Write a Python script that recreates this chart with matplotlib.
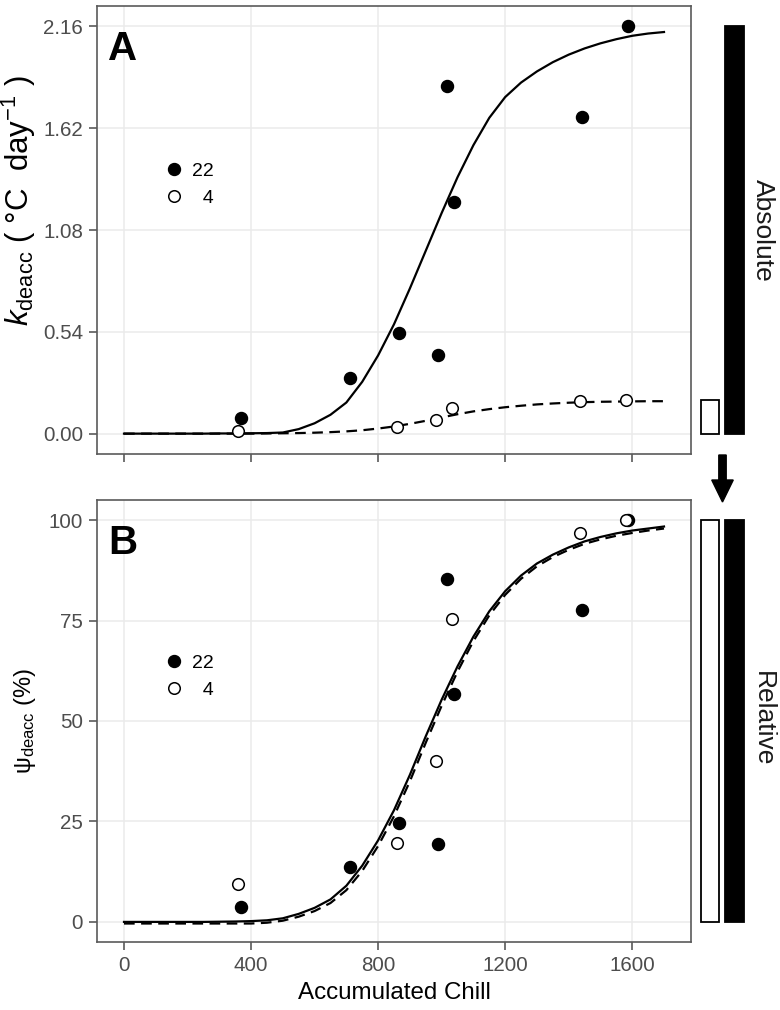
import matplotlib
matplotlib.use('Agg')
import matplotlib.pyplot as plt
from matplotlib.lines import Line2D
from matplotlib.patches import FancyArrow

plt.rcParams['font.family'] = ['Liberation Sans', 'DejaVu Sans']
plt.rcParams['mathtext.fontset'] = 'custom'
plt.rcParams['mathtext.rm'] = 'Liberation Sans'
plt.rcParams['mathtext.it'] = 'Liberation Sans:italic'
plt.rcParams['mathtext.bf'] = 'Liberation Sans:bold'

# ---------------- data ----------------
chill_22 = [368, 710, 866, 990, 1018, 1039, 1443, 1587]
kdeacc_22 = [0.081, 0.293, 0.533, 0.417, 1.846, 1.230, 1.680, 2.162]
psi_22 = [3.6, 13.6, 24.7, 19.3, 85.4, 56.8, 77.7, 100.0]

chill_4 = [360, 858, 983, 1033, 1435, 1580]
kdeacc_4 = [0.016, 0.035, 0.070, 0.136, 0.175, 0.180]
psi_4 = [9.4, 19.7, 40.1, 75.4, 96.9, 100.0]

fit_chill = [0, 50, 100, 150, 200, 250, 300, 350, 400, 450, 500, 550, 600, 650,
             700, 750, 800, 850, 900, 950, 1000, 1050, 1100, 1150, 1200, 1250,
             1300, 1350, 1400, 1450, 1500, 1550, 1600, 1650, 1700]
fit_k_22 = [0, 0, 0, 0, 0, 0, 0.001, 0.001, 0.002, 0.003, 0.006, 0.024, 0.055, 0.10,
            0.165, 0.275, 0.415, 0.58, 0.77, 0.97, 1.17, 1.36, 1.53, 1.675, 1.785, 1.862,
            1.921, 1.97, 2.01, 2.043, 2.07, 2.092, 2.11, 2.122, 2.13]
fit_k_4 = [0, 0, 0, 0, 0, 0, 0, 0, 0, 0.001, 0.002, 0.003, 0.005, 0.008,
           0.012, 0.018, 0.027, 0.038, 0.052, 0.068, 0.086, 0.103, 0.118, 0.130, 0.140, 0.148,
           0.155, 0.160, 0.164, 0.167, 0.169, 0.170, 0.171, 0.172, 0.172]
fit_psi_22 = [0, 0, 0, 0, 0, 0, 0.05, 0.1, 0.2, 0.4, 0.9, 2.0, 3.5, 5.6,
              9.0, 14.0, 20.3, 27.8, 36.6, 46.2, 55.3, 63.6, 71.0, 77.3, 82.3, 86.2,
              89.2, 91.4, 93.2, 94.7, 95.8, 96.7, 97.4, 97.9, 98.4]
fit_psi_4 = [-0.4, -0.4, -0.4, -0.4, -0.4, -0.4, -0.4, -0.4, -0.4, -0.2, 0.3, 1.3, 2.7, 4.7,
             7.9, 12.7, 18.9, 26.3, 35.0, 44.6, 53.8, 62.3, 69.9, 76.3, 81.4, 85.4,
             88.5, 90.8, 92.6, 94.1, 95.2, 96.1, 96.8, 97.4, 97.9]

side_abs = [0.18, 2.16]     # max of 4 (open), max of 22 (black)
side_rel = [100, 100]

x_ticks = [0, 400, 800, 1200, 1600]
yA_ticks = [0, 0.54, 1.08, 1.62, 2.16]
yA_labels = ['0.00', '0.54', '1.08', '1.62', '2.16']
yB_ticks = [0, 25, 50, 75, 100]
legend_labels = ['22', '  4']

# ---------------- layout ----------------
W, H = 780, 1010
fig = plt.figure(figsize=(W / 100, H / 100), dpi=100)


def px_axes(l, t, r, b):
    return fig.add_axes([l / W, 1 - b / H, (r - l) / W, (b - t) / H])


axA = px_axes(97, 6, 691, 454)
axB = px_axes(97, 500, 691, 942)
sideA = px_axes(697.6, 6, 746.8, 454)
sideB = px_axes(697.6, 500, 746.8, 942)

BORDER = '#5a5a5a'
GRID = '#EBEBEB'
TICKLAB = '#4D4D4D'
TS = 14.8
LS = 14
dash = (0, (4.8, 2.9))


def style(ax):
    ax.set_axisbelow(True)
    ax.grid(True, color=GRID, linewidth=1.1)
    for s in ax.spines.values():
        s.set_color(BORDER)
        s.set_linewidth(1.2)
    ax.tick_params(axis='both', color=BORDER, length=6, width=1.2,
                   labelcolor=TICKLAB, labelsize=TS, pad=4)
    ax.set_xlim(-85, 1785)
    ax.set_xticks(x_ticks)


style(axA)
style(axB)

# Panel A
axA.plot(fit_chill, fit_k_22, color='black', lw=1.6, zorder=2)
axA.plot(fit_chill, fit_k_4, color='black', lw=1.6, ls=dash, zorder=2)
axA.scatter(chill_22, kdeacc_22, s=75, color='black', zorder=3)
axA.scatter(chill_4, kdeacc_4, s=70, facecolor='white', edgecolor='black',
            linewidth=1.1, zorder=4)
axA.set_ylim(-0.108, 2.268)
axA.set_yticks(yA_ticks)
axA.set_yticklabels(yA_labels)
axA.tick_params(axis='x', labelbottom=False)
axA.set_ylabel(r'$k_{\mathrm{deacc}}$ ( °C  day$^{-1}$ )', fontsize=22.5)
axA.yaxis.set_label_coords(-0.099, 0.565)

# Panel B
axB.plot(fit_chill, fit_psi_22, color='black', lw=1.6, zorder=2)
axB.plot(fit_chill, fit_psi_4, color='black', lw=1.6, ls=dash, zorder=2)
axB.scatter(chill_22, psi_22, s=75, color='black', zorder=3)
axB.scatter(chill_4, psi_4, s=70, facecolor='white', edgecolor='black',
            linewidth=1.1, zorder=4)
axB.set_ylim(-5, 105)
axB.set_yticks(yB_ticks)
axB.set_ylabel(r'ψ$_{\mathrm{deacc}}$ (%)', fontsize=17)
axB.yaxis.set_label_coords(-0.099, 0.5)
axB.set_xlabel('Accumulated Chill', fontsize=17.4, labelpad=5)

# panel letters and legends
for ax, letter in ((axA, 'A'), (axB, 'B')):
    ax.text(11 / 594, 1 - 54 / ax.bbox.height, letter,
            transform=ax.transAxes, fontsize=29, fontweight='bold',
            ha='left', va='baseline')
    handles = [Line2D([], [], ls='', marker='o', markersize=8.6,
                      markerfacecolor='black', markeredgecolor='black'),
               Line2D([], [], ls='', marker='o', markersize=8.3,
                      markerfacecolor='white', markeredgecolor='black',
                      markeredgewidth=1.1)]
    ax.legend(handles, legend_labels, loc='upper left',
              bbox_to_anchor=(0.1125, 0.651), frameon=False, fontsize=LS,
              handlelength=1.0, handletextpad=0.47, labelspacing=0.5,
              borderpad=0, borderaxespad=0)

# side bars
for sax, vals, ref in ((sideA, side_abs, axA), (sideB, side_rel, axB)):
    sax.bar([0, 1], vals, width=0.75, color=['white', 'black'],
            edgecolor='black', linewidth=1.3)
    sax.set_xlim(-0.5, 1.5)
    sax.set_ylim(ref.get_ylim())
    sax.axis('off')

fig.text(763 / W, 1 - 230 / H, 'Absolute', rotation=-90, ha='center',
         va='center', fontsize=19, color='#1A1A1A')
fig.text(763 / W, 1 - 719 / H, 'Relative', rotation=-90, ha='center',
         va='center', fontsize=19, color='#1A1A1A')

arrow = FancyArrow(7.225, (H - 455) / 100, 0, -0.47, width=0.074,
                   head_width=0.215, head_length=0.22,
                   length_includes_head=True, color='black',
                   transform=fig.dpi_scale_trans)
fig.add_artist(arrow)

fig.savefig('out.png', dpi=100)
